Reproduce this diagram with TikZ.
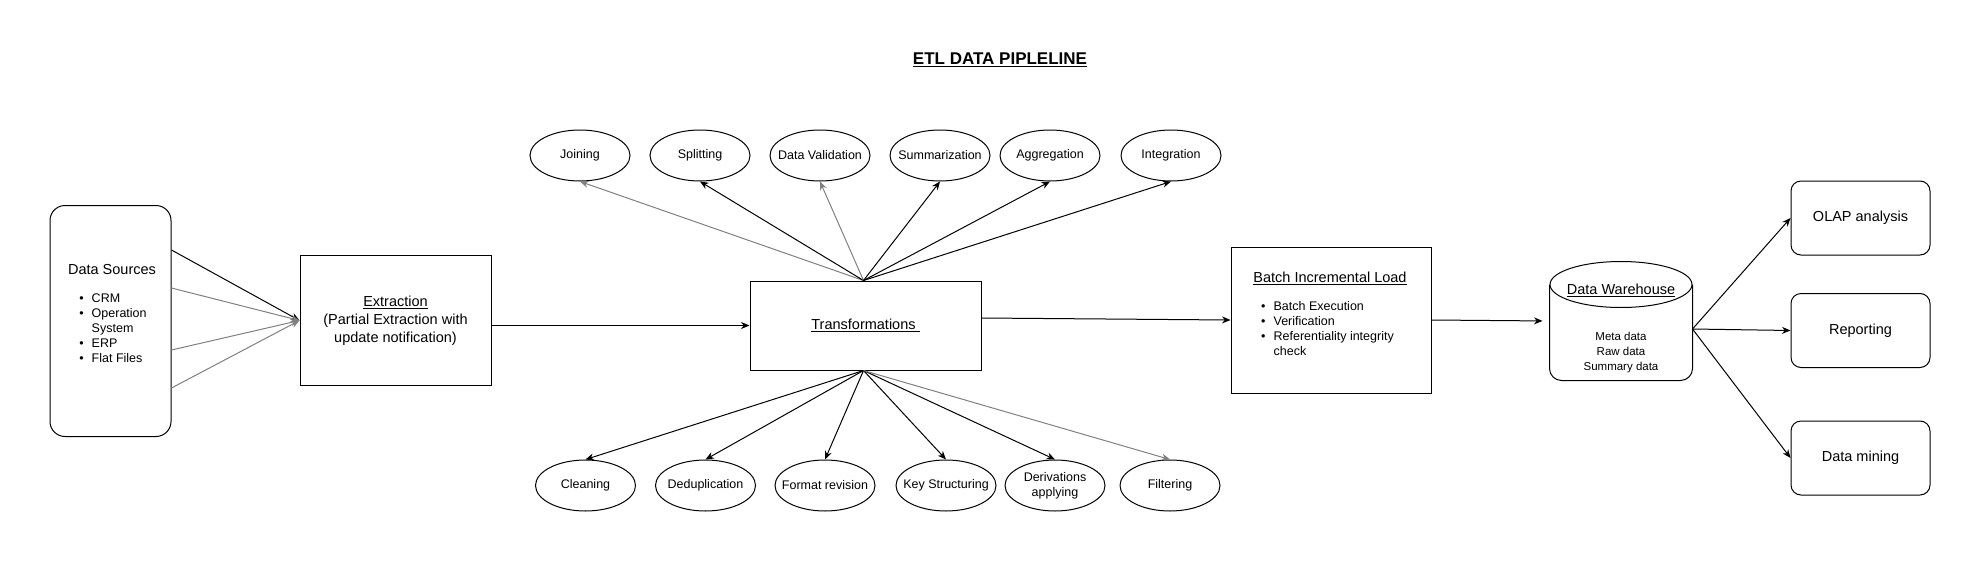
\documentclass[tikz,border=0pt]{standalone}
\usepackage{fontspec}
\setmainfont{Liberation Sans}
\usepackage{tikz}
\usetikzlibrary{arrows.meta,positioning,shapes.geometric}

\newcommand{\fhead}{\fontsize{14.5}{18}\selectfont}
\newcommand{\fitem}{\fontsize{12.5}{15}\selectfont}
\newcommand{\fdw}{\fontsize{11.5}{15}\selectfont}
\newcommand{\elab}[1]{\makebox[0pt]{#1}}
\newcommand{\itemrows}[1]{\begin{tabular}{@{}l@{\hspace{8pt}}l@{}}#1\end{tabular}}

\begin{document}
\begin{tikzpicture}[
  x=1pt, y=-1pt,
  line width=1pt,
  box/.style={draw, align=center, font=\fhead, inner sep=0pt},
  endbox/.style={box, rounded corners=10pt, minimum width=139pt, minimum height=74pt},
  ell/.style={draw, ellipse, minimum width=100pt, minimum height=51pt, inner sep=0pt, font=\fitem},
  faint/.style={draw=black!50},
  >={Stealth[length=8.5pt, width=7pt]}
]
  \useasboundingbox (0,0) rectangle (1981,562);

  \node[font=\fontsize{17}{20}\selectfont\bfseries] (title) at (1000,60) {\underline{ETL DATA PIPLELINE}};

  % sources and extraction
  \node[box, rounded corners=15pt, minimum width=121pt, minimum height=231pt] (src) at (110.5,321) {};
  \node[font=\fhead] (srctitle) at (112,270) {Data Sources};
  \node[font=\fitem] (srclist) at (113,329.5) {\itemrows{\textbullet & CRM\\ \textbullet & Operation\\ & System\\ \textbullet & ERP\\ \textbullet & Flat Files}};
  \node[box, minimum width=191pt, minimum height=130pt] (extract) at (395.5,320.5) {\underline{Extraction}\\(Partial Extraction with\\update notification)};

  % transformations and its steps
  \node[box, minimum width=231pt, minimum height=89pt] (trans) at (865.5,325.5) {\underline{Transformations\ }};
  \coordinate (ttop) at ([xshift=-2pt]trans.north);
  \coordinate (tbot) at ([xshift=-2pt]trans.south);

  \node[ell] (joining) at (580,155.5) {\elab{Joining}};
  \node[ell] (splitting) at (700,155.5) {\elab{Splitting}};
  \node[ell] (validation) at (820,155.5) {\elab{Data Validation}};
  \node[ell] (summarization) at (940,155.5) {\elab{Summarization}};
  \node[ell] (aggregation) at (1050,155.5) {\elab{Aggregation}};
  \node[ell] (integration) at (1171,155.5) {\elab{Integration}};

  \node[ell] (cleaning) at (585.5,485.5) {\elab{Cleaning}};
  \node[ell] (dedup) at (705.5,485.5) {\elab{Deduplication}};
  \node[ell] (format) at (825,485.5) {\elab{Format revision}};
  \node[ell] (keystruct) at (946,485.5) {\elab{Key Structuring}};
  \node[ell] (derivation) at (1055,485.5) {\elab{\begin{tabular}{@{}c@{}}Derivations\\applying\end{tabular}}};
  \node[ell] (filtering) at (1170,485.5) {\elab{Filtering}};

  % load and warehouse
  \node[box, minimum width=200pt, minimum height=146pt] (batch) at (1331,320) {};
  \node[font=\fhead] (batchtitle) at (1330,278) {\underline{Batch Incremental Load}};
  \node[font=\fitem] (batchlist) at (1327.5,329.5) {\itemrows{\textbullet & Batch Execution\\ \textbullet & Verification\\ \textbullet & Referentiality integrity\\ & check}};

  \node[minimum width=142pt, minimum height=118pt, inner sep=0pt] (dw) at (1621,321) {};
  \draw[rounded corners=12pt] ([yshift=-23pt]dw.north west) -- (dw.south west) -- (dw.south east) -- ([yshift=-23pt]dw.north east);
  \draw ([yshift=-23pt]dw.north) ellipse (71pt and 23pt);
  \node[font=\fhead] (dwtitle) at (1621,290) {\underline{Data Warehouse}};
  \node[font=\fdw, align=center] (dwlist) at (1621,353) {Meta data\\Raw data\\Summary data};
  \coordinate (dwout) at ([yshift=-8pt]dw.east);

  \node[endbox] (olap) at (1860.5,218) {OLAP analysis};
  \node[endbox] (reporting) at (1860.5,330.5) {Reporting};
  \node[endbox] (mining) at (1860.5,458) {Data mining};

  % connectors
  \foreach \dy/\st in {71/draw, 33/faint, -29/faint, -67/faint}
    \draw[->, \st] ([yshift=\dy pt]src.east) -- (extract.west);
  \draw[->] (extract.east |- trans.west) -- (trans.west);
  \foreach \n/\st in {joining/faint, splitting/draw, validation/faint, summarization/draw, aggregation/draw, integration/draw}
    \draw[->, \st] (ttop) -- (\n.south);
  \foreach \n/\st in {cleaning/draw, dedup/draw, format/draw, keystruct/draw, derivation/draw, filtering/faint}
    \draw[->, \st] (tbot) -- (\n.north);
  \draw[->] ([yshift=7.5pt]trans.east) -- (batch.west);
  \draw[->, shorten >=7pt] (batch.east) -- (dw.west);
  \draw[->] (dwout) -- (olap.west);
  \draw[->] (dwout) -- (reporting.west);
  \draw[->] (dwout) -- (mining.west);
\end{tikzpicture}
\end{document}
